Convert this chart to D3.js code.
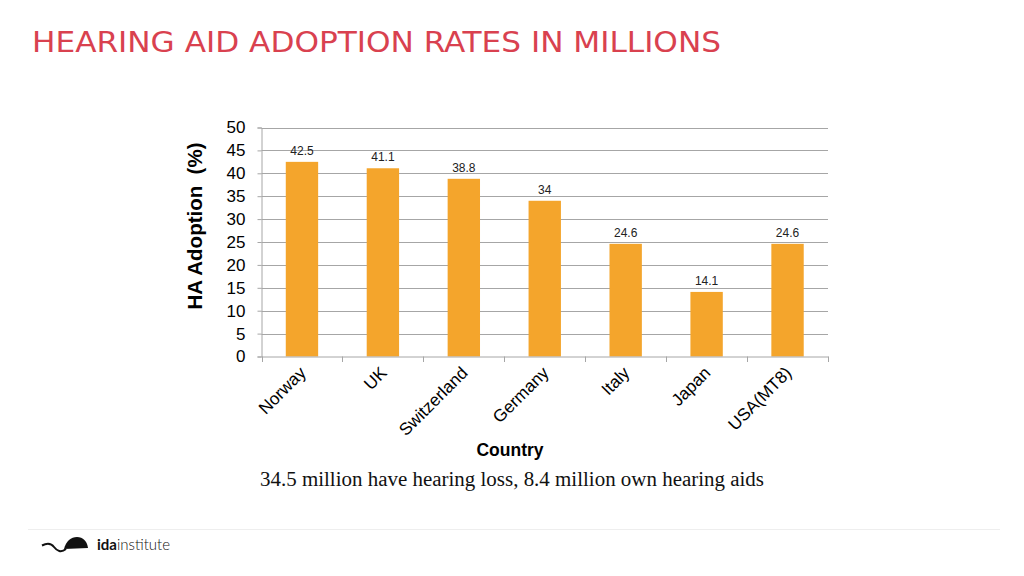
<!DOCTYPE html>
<html><head><meta charset="utf-8">
<script src="https://cdn.jsdelivr.net/npm/d3@7"></script>
<style>body{margin:0;background:#fff}svg{display:block}</style>
</head><body>
<script>
const categories = ["Norway","UK","Switzerland","Germany","Italy","Japan","USA(MT8)"];
const values = [42.5, 41.1, 38.8, 34, 24.6, 14.1, 24.6];
const yTicks = [0,5,10,15,20,25,30,35,40,45,50];

const W = 1024, H = 576;
const svg = d3.select("body").append("svg").attr("width", W).attr("height", H);

svg.append("text").attr("x", 32).attr("y", 52)
  .attr("font-family", "DejaVu Sans Condensed, DejaVu Sans").attr("font-size", 29)
  .attr("fill", "#d9414f").attr("textLength", 689).attr("lengthAdjust", "spacingAndGlyphs")
  .text("HEARING AID ADOPTION RATES IN MILLIONS");

const xb = d3.scaleBand().domain(categories).range([261.5, 828]);
const y = d3.scaleLinear().domain([0, 50]).range([356.5, 127.5]);

// gridlines
svg.append("g").selectAll("line").data(yTicks.filter(d => d > 0)).join("line")
  .attr("x1", 261.5).attr("x2", 828).attr("y1", d => Math.round(y(d)) + 0.5).attr("y2", d => Math.round(y(d)) + 0.5)
  .attr("stroke", "#a6a6a6").attr("stroke-width", 1);

// y axis
const ya = svg.append("g").attr("transform", "translate(261.5,0)")
  .call(d3.axisLeft(y).tickValues(yTicks).tickSize(4).tickPadding(12));
ya.select(".domain").attr("stroke", "#a6a6a6");
ya.selectAll(".tick line").attr("stroke", "#a6a6a6");
ya.selectAll("text").attr("font-family", "Liberation Sans, Arial").attr("font-size", 17).attr("fill", "#000");

// bars
svg.append("g").selectAll("rect").data(values).join("rect")
  .attr("x", (d, i) => xb(categories[i]) + xb.bandwidth() * 0.3)
  .attr("width", xb.bandwidth() * 0.4)
  .attr("y", d => y(d)).attr("height", d => y(0) - y(d))
  .attr("fill", "#f4a52c");

// x axis
const xa = svg.append("g").attr("transform", "translate(0,356.5)")
  .call(d3.axisBottom(xb).tickSize(0).tickFormat(""));
xa.select(".domain").attr("stroke", "#a6a6a6");
xa.selectAll(".tick").remove();
svg.append("g").selectAll("line").data(categories.concat(["__end"])).join("line")
  .attr("x1", (d, i) => Math.round(261.5 + i * xb.step()) + 0.5)
  .attr("x2", (d, i) => Math.round(261.5 + i * xb.step()) + 0.5)
  .attr("y1", 356.5).attr("y2", 362).attr("stroke", "#a6a6a6");

// data labels
svg.append("g").selectAll("text").data(values).join("text")
  .attr("x", (d, i) => xb(categories[i]) + xb.bandwidth() / 2)
  .attr("y", d => y(d) - 7)
  .attr("text-anchor", "middle").attr("font-family", "Liberation Sans, Arial").attr("font-size", 12)
  .attr("fill", "#222").text(d => d);

// category labels
svg.append("g").selectAll("text").data(categories).join("text")
  .attr("transform", d => `translate(${xb(d) + xb.bandwidth() / 2 + 5},${374}) rotate(-45)`)
  .attr("text-anchor", "end").attr("font-family", "Liberation Sans, Arial").attr("font-size", 17.2)
  .attr("fill", "#000").text(d => d);

// axis titles
svg.append("text").attr("transform", "translate(202,226) rotate(-90)")
  .attr("text-anchor", "middle").attr("font-family", "Liberation Sans, Arial").attr("font-weight", "bold")
  .attr("font-size", 20.5).attr("fill", "#000").attr("xml:space", "preserve").text("HA Adoption  (%)");
svg.append("text").attr("x", 510).attr("y", 456).attr("text-anchor", "middle")
  .attr("font-family", "Liberation Sans, Arial").attr("font-weight", "bold").attr("font-size", 17.5)
  .attr("fill", "#000").text("Country");

svg.append("text").attr("x", 260).attr("y", 486)
  .attr("font-family", "Liberation Serif, DejaVu Serif").attr("font-size", 20)
  .attr("textLength", 504).attr("lengthAdjust", "spacingAndGlyphs")
  .attr("fill", "#111").text("34.5 million have hearing loss, 8.4 million own hearing aids");

// footer
svg.append("line").attr("x1", 28).attr("x2", 1000).attr("y1", 529.5).attr("y2", 529.5)
  .attr("stroke", "#eeeeee").attr("stroke-width", 1);
svg.append("path").attr("d", "M42,545.5 C47,543 51,543 54,547 C57,551 61,553 66,549").attr("fill", "none").attr("stroke", "#111").attr("stroke-width", 2);
svg.append("path").attr("d", "M64,549 C66,541 71,537 77,537 C83,537 87,541 88,548 Z").attr("fill", "#111");
const lt = svg.append("text").attr("x", 97).attr("y", 550).attr("font-family", "Lato, Noto Sans").attr("font-size", 15).attr("fill", "#111");
lt.append("tspan").attr("font-weight", "bold").text("ida");
lt.append("tspan").attr("font-weight", "300").text("institute");
</script>
</body></html>
